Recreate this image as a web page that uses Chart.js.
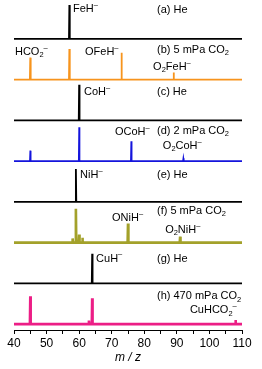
<!DOCTYPE html>
<html>
<head>
<meta charset="utf-8">
<script src="https://cdn.jsdelivr.net/npm/chart.js@4"></script>
<style>
  html, body { margin: 0; padding: 0; background: #fff; }
  #wrap { width: 262px; height: 369px; }
</style>
</head>
<body>
<div id="wrap"><canvas id="spectra"></canvas></div>
<script>
"use strict";

// Panels from top to bottom
const panelIds = ['a', 'b', 'c', 'd', 'e', 'f', 'g', 'h'];
const panelColors = ['#000000', '#f7941d', '#000000', '#1414dc', '#000000', '#a3a12a', '#000000', '#ec1e86'];
const panelLineWidths = [1.8, 1.8, 1.8, 1.6, 1.8, 2.6, 1.8, 2.6];

// Peak positions (m/z) and relative heights for each panel
const peaksA_mz = [57];
const peaksA_int = [0.97];
const peaksB_mz = [45, 57, 73, 89];
const peaksB_int = [0.63, 0.88, 0.77, 0.2];
const peaksC_mz = [60];
const peaksC_int = [1.02];
const peaksD_mz = [45, 60, 76, 92];
const peaksD_int = [0.3, 0.97, 0.57, 0.08];
const peaksE_mz = [59];
const peaksE_int = [0.94];
const peaksF_mz = [58, 59, 60, 61, 75, 91];
const peaksF_int = [0.12, 0.97, 0.23, 0.14, 0.55, 0.17];
const peaksG_mz = [64];
const peaksG_int = [0.85];
const peaksH_mz = [45, 63, 64, 108];
const peaksH_int = [0.8, 0.1, 0.74, 0.12];

// x axis ticks
const xTicks = [40, 50, 60, 70, 80, 90, 100, 110];

// Text labels: panel, text (_ = subscript, ^ = superscript), m/z, height
const labelPanels = ['a', 'a', 'b', 'b', 'b', 'b', 'c', 'c', 'd', 'd', 'd', 'e', 'e', 'f', 'f', 'f', 'g', 'g', 'h', 'h'];
const labelTexts = ['(a) He', 'FeH^–', '(b) 5 mPa CO_2', 'HCO_2^–', 'OFeH^–', 'O_2FeH^–',
    '(c) He', 'CoH^–', '(d) 2 mPa CO_2', 'OCoH^–', 'O_2CoH^–',
    '(e) He', 'NiH^–', '(f) 5 mPa CO_2', 'ONiH^–', 'O_2NiH^–',
    '(g) He', 'CuH^–', '(h) 470 mPa CO_2', 'CuHCO_2^–'];
const labelMz = [83.9, 58.1, 83.9, 40.3, 61.8, 82.7, 83.9, 61.5, 83.9, 71.0, 85.7,
    83.9, 60.3, 83.9, 70.1, 86.4, 83.9, 65.2, 83.9, 94.0];
const labelY = [0.83, 0.85, 0.85, 0.8, 0.8, 0.37, 0.8, 0.8, 0.86, 0.83, 0.43,
    0.77, 0.77, 0.91, 0.71, 0.37, 0.71, 0.71, 0.8, 0.4];

const allPeaks = [
    [peaksA_mz, peaksA_int], [peaksB_mz, peaksB_int], [peaksC_mz, peaksC_int], [peaksD_mz, peaksD_int],
    [peaksE_mz, peaksE_int], [peaksF_mz, peaksF_int], [peaksG_mz, peaksG_int], [peaksH_mz, peaksH_int]
];

const FONT = '"Liberation Sans", Arial, sans-serif';

// Turn a stick list into a line trace with a flat baseline
function buildTrace(mzs, ints) {
    const pts = [{ x: 40, y: 0 }];
    mzs.forEach((m, i) => {
        pts.push({ x: m - 0.12, y: 0 }, { x: m, y: ints[i] }, { x: m + 0.12, y: 0 });
    });
    pts.push({ x: 110, y: 0 });
    return pts;
}

// Draw text with _x subscripts and ^x superscripts
function drawRich(ctx, text, x, y, size) {
    let i = 0;
    while (i < text.length) {
        let run = '';
        let dy = 0;
        let fs = size;
        if (text[i] === '_' || text[i] === '^') {
            dy = text[i] === '_' ? size * 0.3 : -size * 0.38;
            fs = size * 0.68;
            run = text[i + 1];
            i += 2;
        } else {
            while (i < text.length && text[i] !== '_' && text[i] !== '^') {
                run += text[i];
                i++;
            }
        }
        ctx.font = fs + 'px ' + FONT;
        ctx.fillText(run, x, y + dy);
        x += ctx.measureText(run).width;
    }
}

const labelPlugin = {
    id: 'peakLabels',
    afterDatasetsDraw(chart) {
        const ctx = chart.ctx;
        ctx.save();
        ctx.fillStyle = '#000';
        ctx.textBaseline = 'middle';
        ctx.textAlign = 'left';
        labelTexts.forEach((t, i) => {
            const px = chart.scales.x.getPixelForValue(labelMz[i]);
            const py = chart.scales['y_' + labelPanels[i]].getPixelForValue(labelY[i]);
            drawRich(ctx, t, px, py, 11);
        });
        ctx.restore();
    }
};

const datasets = panelIds.map((id, i) => ({
    label: id,
    data: buildTrace(allPeaks[i][0], allPeaks[i][1]),
    yAxisID: 'y_' + id,
    borderColor: panelColors[i],
    borderWidth: panelLineWidths[i],
    pointRadius: 0,
    tension: 0,
    fill: false,
    clip: false
}));

const scales = {
    x: {
        type: 'linear',
        position: 'bottom',
        min: 40,
        max: 110,
        afterBuildTicks: (axis) => {
            const t = [];
            for (let v = 40; v <= 110; v += 5) t.push({ value: v });
            axis.ticks = t;
        },
        ticks: {
            autoSkip: false,
            maxRotation: 0,
            padding: 4,
            color: '#000',
            font: { size: 12, family: FONT, lineHeight: 1 },
            callback: (v) => xTicks.includes(v) ? String(v) : ''
        },
        grid: { drawOnChartArea: false, drawTicks: true, tickLength: 4, color: '#000', lineWidth: 1 },
        border: { display: true, color: '#000', width: 1 },
        title: {
            display: true,
            text: 'm / z',
            color: '#000',
            padding: { top: -2, bottom: 0 },
            font: { size: 12, style: 'italic', family: FONT, lineHeight: 1 }
        }
    }
};

panelIds.forEach((id, i) => {
    scales['y_' + id] = {
        type: 'linear',
        display: false,
        position: 'left',
        stack: 'spec',
        stackWeight: 1,
        weight: panelIds.length - i,
        min: -0.17,
        max: 1.0
    };
});

new Chart(document.getElementById('spectra'), {
    type: 'line',
    data: { datasets },
    options: {
        responsive: true,
        maintainAspectRatio: false,
        animation: false,
        layout: { padding: { left: 14, right: 20, top: 4, bottom: 5 } },
        plugins: { legend: { display: false }, tooltip: { enabled: false } },
        scales
    },
    plugins: [labelPlugin]
});
</script>
</body>
</html>
